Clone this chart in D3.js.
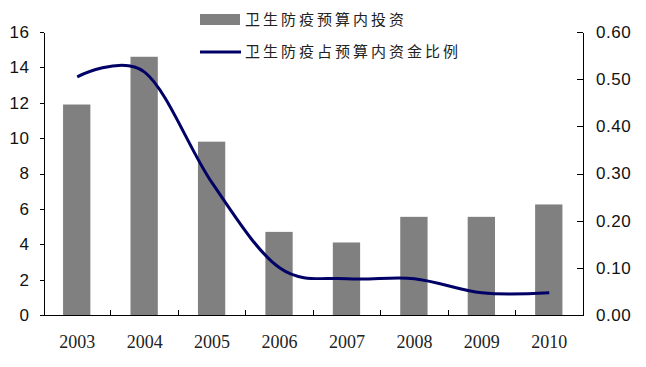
<!DOCTYPE html>
<html>
<head>
<meta charset="utf-8">
<script src="https://cdn.jsdelivr.net/npm/d3@7"></script>
<style>
  body { margin: 0; background: #fff; }
  svg { display: block; }
</style>
</head>
<body>
<svg width="646" height="367"></svg>
<script>
// data
var years = ["2003", "2004", "2005", "2006", "2007", "2008", "2009", "2010"];
var investment = [11.9, 14.6, 9.8, 4.7, 4.1, 5.55, 5.55, 6.25];   // 卫生防疫预算内投资
var shareOfBudget = [0.505, 0.515, 0.28, 0.10, 0.077, 0.077, 0.047, 0.047]; // 占比
var leftTicks = [0, 2, 4, 6, 8, 10, 12, 14, 16];
var rightTicks = [0, 0.1, 0.2, 0.3, 0.4, 0.5, 0.6];
var legendNames = ["卫生防疫预算内投资", "卫生防疫占预算内资金比例"];

var svg = d3.select("svg"),
    width = +svg.attr("width"),
    height = +svg.attr("height");

// plot edges (note: "top" is reserved on window)
var plotLeft = 43.5, plotRight = 583, plotTop = 32, plotBottom = 315;

var x = d3.scaleBand()
    .domain(years)
    .range([plotLeft, plotRight])
    .padding(0);

var y = d3.scaleLinear()
    .domain([0, 16])
    .range([plotBottom, plotTop]);

var y2 = d3.scaleLinear()
    .domain([0, 0.6])
    .range([plotBottom, plotTop]);

var bw = x.bandwidth();

// bars
svg.append("g")
  .selectAll("rect")
  .data(investment)
  .enter().append("rect")
    .attr("x", function(d, i) { return x(years[i]) + bw * 0.29; })
    .attr("width", bw * 0.405)
    .attr("y", function(d) { return y(d); })
    .attr("height", function(d) { return y(0) - y(d); })
    .attr("fill", "#808080");

// smoothed line (Excel style)
var line = d3.line()
    .x(function(d, i) { return x(years[i]) + bw / 2; })
    .y(function(d) { return y2(d); })
    .curve(d3.curveCardinal.tension(0));

svg.append("path")
    .datum(shareOfBudget)
    .attr("d", line)
    .attr("fill", "none")
    .attr("stroke", "#000066")
    .attr("stroke-width", 3);

// left axis
var gl = svg.append("g")
    .attr("transform", "translate(" + plotLeft + ",0)")
    .call(d3.axisLeft(y)
      .tickValues(leftTicks)
      .tickSize(4)
      .tickSizeOuter(0)
      .tickPadding(10)
      .tickFormat(d3.format("d")));

// right axis, ticks point inwards
var gr = svg.append("g")
    .attr("transform", "translate(" + plotRight + ",0)")
    .call(d3.axisRight(y2)
      .tickValues(rightTicks)
      .tickSize(-6)
      .tickSizeOuter(0)
      .tickPadding(13)
      .tickFormat(d3.format(".2f")));

[gl, gr].forEach(function(g) {
  g.select(".domain").attr("stroke", "#000").attr("shape-rendering", "crispEdges");
  g.selectAll(".tick line").attr("stroke", "#000").attr("shape-rendering", "crispEdges");
  g.selectAll("text")
      .attr("font-family", "'Liberation Sans', Arial, sans-serif")
      .attr("font-size", 17)
      .attr("letter-spacing", 0.5)
      .attr("fill", "#111");
});

// bottom axis line
svg.append("line")
    .attr("x1", plotLeft).attr("x2", plotRight)
    .attr("y1", plotBottom).attr("y2", plotBottom)
    .attr("stroke", "#000")
    .attr("shape-rendering", "crispEdges");

// category boundary ticks, pointing up
svg.append("g")
  .selectAll("line")
  .data(years.slice(1))
  .enter().append("line")
    .attr("x1", function(d) { return x(d); })
    .attr("x2", function(d) { return x(d); })
    .attr("y1", plotBottom)
    .attr("y2", plotBottom - 5)
    .attr("stroke", "#000")
    .attr("shape-rendering", "crispEdges");

svg.append("g")
  .selectAll("text")
  .data(years)
  .enter().append("text")
    .attr("x", function(d) { return x(d) + bw / 2; })
    .attr("y", 348)
    .attr("text-anchor", "middle")
    .attr("font-family", "'Liberation Serif', 'Times New Roman', serif")
    .attr("font-size", 18)
    .attr("fill", "#222")
    .text(function(d) { return d; });

// legend
var lg = svg.append("g");

lg.append("rect")
    .attr("x", 200).attr("y", 14)
    .attr("width", 40).attr("height", 11)
    .attr("fill", "#808080");

lg.append("line")
    .attr("x1", 200).attr("x2", 241)
    .attr("y1", 52).attr("y2", 52)
    .attr("stroke", "#000066")
    .attr("stroke-width", 3);

lg.selectAll("text")
  .data(legendNames)
  .enter().append("text")
    .attr("x", 245)
    .attr("y", function(d, i) { return 20 + i * 32; })
    .attr("dy", "0.35em")
    .attr("font-family", "'Noto Sans CJK SC', sans-serif")
    .attr("font-size", 15)
    .attr("letter-spacing", 3)
    .attr("fill", "#222")
    .text(function(d) { return d; });
</script>
</body>
</html>
